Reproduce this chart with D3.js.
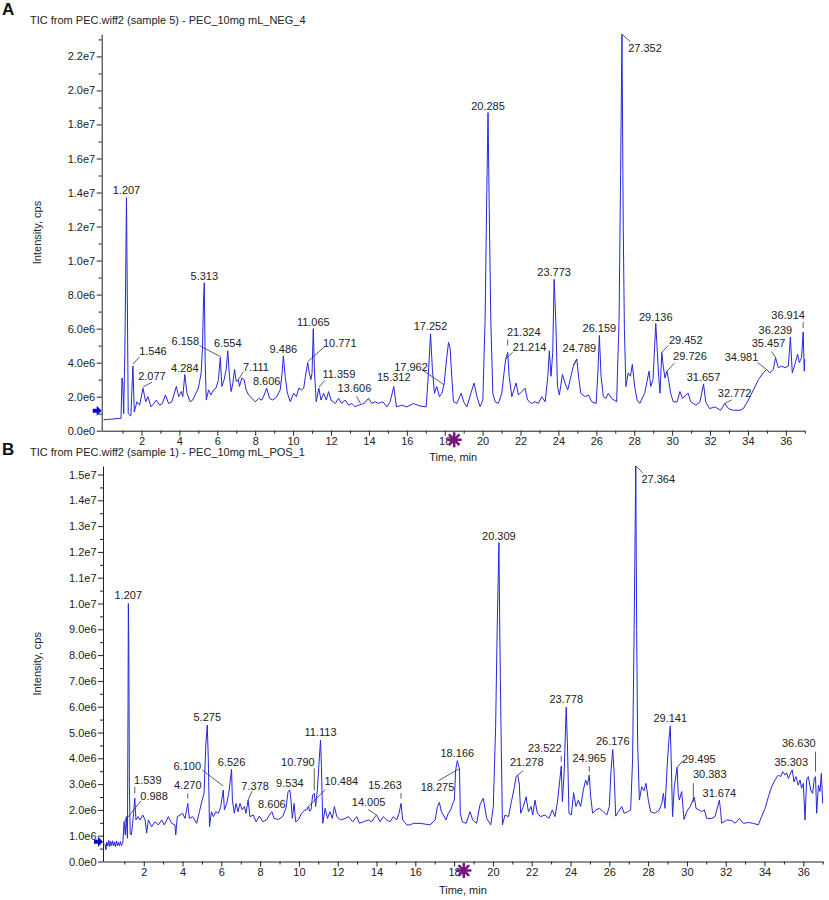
<!DOCTYPE html>
<html lang="en">
<head>
    <meta charset="UTF-8">
    <title>TIC chromatograms</title>
    <script src="https://d3js.org/d3.v7.min.js"></script>
    <style>
        body { margin: 0; background: #fff; }
        svg { display: block; }
        svg text { font-family: "Liberation Sans", Arial, sans-serif; }
        .trace { fill: none; stroke: #2626de; stroke-width: 1; stroke-linejoin: round; }
        .leader { stroke: #333; stroke-width: 0.8; }
    </style>
</head>
<body>
    <svg></svg>

    <script>
        const width = 829;
        const height = 900;
        const FONT = '"Liberation Sans", Arial, sans-serif';

        // ---- panel A : negative mode (intensity in 1e6 cps) ----
        const titleA = "TIC from PEC.wiff2 (sample 5) - PEC_10mg mL_NEG_4";
        const timeA = [0, 0.2, 0.4, 0.6, 0.8, 0.92, 0.97, 1.01, 1.06, 1.12, 1.16, 1.207, 1.25, 1.3, 1.44, 1.546, 1.62, 1.76, 1.9, 2.077,
            2.22, 2.34, 2.5, 2.65, 2.78, 2.96, 3.1, 3.26, 3.43, 3.6, 3.84, 3.96, 4.1, 4.18, 4.284, 4.4, 4.57, 4.7, 4.83, 5.0,
            5.15, 5.22, 5.27, 5.313, 5.36, 5.42, 5.54, 5.66, 5.8, 5.93, 6.06, 6.158, 6.24, 6.36, 6.47, 6.554, 6.64, 6.73, 6.82, 6.91,
            7.0, 7.111, 7.17, 7.3, 7.42, 7.52, 7.65, 7.83, 8.0, 8.18, 8.35, 8.47, 8.606, 8.76, 8.93, 9.14, 9.32, 9.42, 9.486, 9.58,
            9.7, 9.85, 10.03, 10.17, 10.3, 10.44, 10.56, 10.65, 10.771, 10.85, 10.94, 11.0, 11.065, 11.13, 11.22, 11.359, 11.47, 11.61, 11.75, 11.87,
            12.0, 12.22, 12.4, 12.57, 12.75, 12.93, 13.1, 13.27, 13.45, 13.606, 13.75, 13.98, 14.15, 14.33, 14.5, 14.74, 14.95, 15.12, 15.312, 15.45,
            15.73, 16.0, 16.35, 16.7, 17.02, 17.12, 17.252, 17.35, 17.46, 17.58, 17.72, 17.85, 17.962, 18.1, 18.2, 18.29, 18.37, 18.46, 18.64, 18.87,
            19.0, 19.17, 19.38, 19.55, 19.7, 19.87, 20.01, 20.13, 20.22, 20.285, 20.35, 20.43, 20.54, 20.66, 20.83, 21.01, 21.13, 21.214, 21.324, 21.4,
            21.54, 21.77, 21.89, 22.07, 22.24, 22.37, 22.59, 22.77, 22.94, 23.12, 23.3, 23.44, 23.52, 23.61, 23.7, 23.773, 23.86, 23.95, 24.05, 24.21,
            24.35, 24.49, 24.62, 24.72, 24.789, 24.88, 24.97, 25.06, 25.18, 25.41, 25.58, 25.76, 25.99, 26.08, 26.159, 26.25, 26.37, 26.5, 26.63, 26.81,
            27.07, 27.2, 27.28, 27.352, 27.42, 27.48, 27.56, 27.68, 27.8, 27.9, 28.02, 28.15, 28.29, 28.55, 28.78, 28.87, 28.99, 29.08, 29.136, 29.22,
            29.29, 29.36, 29.452, 29.53, 29.62, 29.726, 29.81, 29.92, 30.06, 30.27, 30.41, 30.55, 30.73, 30.85, 30.98, 31.26, 31.47, 31.657, 31.77, 31.97,
            32.26, 32.56, 32.772, 32.97, 33.23, 33.58, 33.76, 34.02, 34.29, 34.55, 34.81, 34.981, 35.16, 35.34, 35.457, 35.6, 35.78, 35.95, 36.13, 36.239,
            36.34, 36.48, 36.62, 36.71, 36.83, 36.914, 36.97, 37.0];
        const ticA = [0.65, 0.66, 0.68, 0.7, 0.72, 0.73, 3.1, 2.8, 1.0, 4.5, 8.5, 13.7, 8.0, 1.0, 0.86, 3.8, 1.1, 1.7, 1.5, 2.5,
            1.7, 2.0, 1.4, 1.6, 1.8, 1.5, 1.6, 2.1, 1.6, 1.7, 2.6, 2.0, 2.3, 2.0, 3.3, 2.2, 1.7, 1.8, 2.1, 2.5,
            3.4, 4.95, 7.6, 8.7, 4.0, 1.8, 2.4, 2.1, 2.4, 2.5, 3.0, 4.3, 2.6, 3.0, 3.6, 4.7, 3.2, 2.3, 2.8, 3.6,
            2.9, 3.0, 2.6, 3.1, 3.0, 2.4, 2.1, 1.9, 1.7, 1.9, 1.8, 2.1, 2.5, 1.9, 1.8, 2.0, 2.4, 3.4, 4.4, 3.2,
            2.2, 1.7, 2.2, 2.0, 2.5, 2.4, 2.5, 3.2, 4.0, 3.4, 3.0, 3.4, 6.0, 3.4, 1.7, 2.5, 1.8, 2.2, 1.8, 2.3,
            1.8, 1.6, 1.9, 1.6, 1.8, 1.5, 1.6, 1.4, 1.5, 1.55, 1.6, 1.9, 1.6, 1.7, 1.6, 1.7, 1.4, 1.7, 2.6, 1.4,
            1.5, 1.4, 1.6, 1.45, 1.4, 3.0, 5.7, 3.6, 2.2, 2.6, 2.0, 2.2, 2.7, 4.2, 5.2, 4.8, 3.2, 1.7, 1.6, 2.2,
            1.7, 1.4, 2.2, 2.8, 2.0, 1.4, 1.8, 6.5, 14.0, 18.7, 13.0, 6.5, 2.2, 1.7, 1.6, 2.2, 3.4, 4.2, 4.6, 3.2,
            2.0, 2.8, 2.1, 2.3, 2.5, 1.8, 1.6, 1.7, 1.6, 2.0, 1.7, 3.2, 4.7, 3.2, 4.6, 8.9, 6.5, 2.6, 2.1, 3.3,
            2.8, 2.4, 3.0, 3.5, 3.8, 4.0, 4.2, 3.2, 2.2, 2.0, 2.1, 1.7, 1.6, 3.4, 5.6, 3.2, 2.0, 1.9, 2.2, 1.9,
            1.7, 6.5, 15.0, 23.3, 12.0, 6.0, 2.6, 3.4, 3.2, 3.9, 2.6, 1.8, 1.6, 2.2, 3.5, 2.6, 3.0, 5.0, 6.3, 4.6,
            3.2, 2.2, 4.6, 3.8, 3.1, 3.5, 3.0, 2.2, 1.7, 1.7, 2.3, 1.9, 2.1, 2.2, 1.7, 1.5, 1.7, 2.75, 1.7, 1.3,
            1.4, 1.2, 1.6, 1.3, 1.2, 1.2, 1.3, 1.8, 2.4, 3.0, 3.4, 3.6, 3.4, 3.6, 4.3, 3.7, 3.8, 3.7, 3.8, 5.5,
            3.4, 3.9, 4.5, 4.0, 4.3, 5.8, 3.5, 4.2];
        const peakLabelsA = ["1.207", "1.546", "2.077", "4.284", "5.313", "6.158", "6.554", "7.111", "8.606", "9.486", "10.771",
            "11.065", "11.359", "13.606", "15.312", "17.252", "17.962", "20.285", "21.214", "21.324", "23.773", "24.789",
            "26.159", "27.352", "29.136", "29.452", "29.726", "31.657", "32.772", "34.981", "35.457", "36.239", "36.914"];
        const yTicksA = [0, 2, 4, 6, 8, 10, 12, 14, 16, 18, 20, 22];
        const yMaxA = 23.3;

        // ---- panel B : positive mode (intensity in 1e6 cps) ----
        const titleB = "TIC from PEC.wiff2 (sample 1) - PEC_10mg mL_POS_1";
        const timeB = [0, 0.05, 0.1, 0.15, 0.2, 0.25, 0.3, 0.35, 0.4, 0.45, 0.5, 0.55, 0.6, 0.65, 0.7, 0.75, 0.8, 0.85, 0.92, 0.988,
            1.05, 1.1, 1.16, 1.19, 1.207, 1.23, 1.26, 1.3, 1.36, 1.43, 1.539, 1.6, 1.71, 1.81, 1.95, 2.07, 2.15, 2.24, 2.41, 2.58,
            2.75, 2.93, 3.06, 3.27, 3.44, 3.61, 3.65, 3.73, 3.87, 4.0, 4.13, 4.27, 4.35, 4.52, 4.73, 4.87, 4.99, 5.11, 5.2, 5.275,
            5.33, 5.39, 5.49, 5.59, 5.71, 5.85, 5.97, 6.1, 6.16, 6.28, 6.38, 6.44, 6.526, 6.57, 6.67, 6.76, 6.86, 6.96, 7.08, 7.19,
            7.27, 7.378, 7.48, 7.65, 7.79, 7.96, 8.14, 8.34, 8.48, 8.606, 8.72, 8.94, 9.16, 9.33, 9.44, 9.534, 9.59, 9.66, 9.75, 9.83,
            9.97, 10.14, 10.31, 10.4, 10.484, 10.56, 10.62, 10.71, 10.79, 10.86, 10.95, 11.04, 11.113, 11.16, 11.23, 11.35, 11.47, 11.6, 11.72, 11.83,
            11.95, 12.15, 12.38, 12.55, 12.77, 12.98, 13.12, 13.32, 13.58, 13.75, 13.92, 14.005, 14.18, 14.35, 14.52, 14.69, 14.87, 15.04, 15.16, 15.263,
            15.35, 15.56, 15.73, 15.9, 16.24, 16.5, 16.76, 17.02, 17.14, 17.24, 17.34, 17.45, 17.58, 17.7, 17.82, 17.93, 18.01, 18.08, 18.166, 18.22,
            18.275, 18.32, 18.42, 18.62, 18.82, 18.96, 19.16, 19.33, 19.5, 19.68, 19.89, 20.02, 20.14, 20.22, 20.309, 20.36, 20.42, 20.49, 20.62, 20.8,
            20.97, 21.11, 21.2, 21.278, 21.36, 21.43, 21.57, 21.71, 21.83, 21.97, 22.05, 22.17, 22.29, 22.46, 22.68, 22.89, 23.06, 23.2, 23.34, 23.522,
            23.58, 23.67, 23.778, 23.84, 23.92, 24.04, 24.16, 24.28, 24.4, 24.52, 24.66, 24.78, 24.87, 24.965, 25.04, 25.14, 25.31, 25.49, 25.69, 25.87,
            26.0, 26.09, 26.176, 26.24, 26.33, 26.47, 26.64, 26.77, 26.95, 27.1, 27.2, 27.28, 27.364, 27.41, 27.46, 27.55, 27.67, 27.79, 27.89, 28.01,
            28.13, 28.35, 28.58, 28.7, 28.79, 28.87, 28.99, 29.06, 29.141, 29.19, 29.26, 29.35, 29.495, 29.55, 29.61, 29.73, 29.85, 29.99, 30.16, 30.383,
            30.47, 30.62, 30.76, 30.9, 31.02, 31.28, 31.45, 31.674, 31.74, 31.79, 32.05, 32.31, 32.48, 32.71, 32.91, 33.17, 33.42, 33.68, 33.85, 34.03,
            34.2, 34.37, 34.54, 34.71, 34.83, 34.94, 35.06, 35.14, 35.23, 35.303, 35.43, 35.52, 35.62, 35.74, 35.83, 35.91, 36.0, 36.09, 36.17, 36.26,
            36.38, 36.48, 36.57, 36.63, 36.69, 36.78, 36.86, 36.93, 37.0];
        const ticB = [0.7, 0.45, 0.75, 0.6, 0.82, 0.58, 0.78, 0.62, 0.8, 0.6, 0.76, 0.58, 0.8, 0.62, 0.74, 0.6, 0.78, 0.62, 0.7, 1.54,
            1.03, 1.74, 0.9, 6.0, 10.0, 8.4, 3.0, 1.1, 1.03, 1.48, 2.45, 1.61, 1.74, 1.61, 1.8, 1.61, 1.1, 1.61, 1.35, 1.54,
            1.42, 1.61, 1.42, 1.74, 1.48, 1.42, 1.03, 1.74, 1.8, 1.87, 1.67, 2.25, 1.67, 1.74, 1.48, 1.93, 2.32, 2.64, 4.52, 5.29,
            3.94, 1.35, 1.93, 1.74, 1.93, 1.87, 2.13, 2.77, 2.0, 2.25, 2.64, 3.0, 3.57, 2.38, 1.87, 2.25, 1.93, 2.25, 2.0, 2.13,
            1.87, 2.38, 1.74, 1.8, 1.54, 1.76, 1.54, 1.63, 1.8, 1.93, 1.67, 1.63, 1.74, 2.06, 2.71, 2.77, 2.38, 1.67, 2.25, 1.54,
            1.61, 1.87, 2.0, 2.0, 2.13, 1.95, 2.0, 2.58, 2.64, 2.13, 2.77, 3.87, 4.71, 3.68, 1.48, 2.06, 1.67, 1.93, 1.67, 2.13,
            1.74, 1.61, 1.67, 1.74, 1.54, 1.74, 1.48, 1.54, 1.61, 1.54, 1.74, 1.8, 1.54, 1.74, 1.61, 1.54, 1.74, 1.61, 1.87, 2.25,
            1.61, 1.42, 1.42, 1.48, 1.48, 1.45, 1.42, 1.61, 2.13, 2.29, 1.93, 1.8, 1.61, 1.87, 2.0, 2.25, 2.38, 3.55, 3.91, 3.75,
            3.6, 1.87, 1.54, 1.48, 1.93, 1.61, 1.48, 2.19, 2.45, 1.67, 1.42, 2.13, 5.23, 9.0, 12.36, 8.5, 5.0, 1.42, 1.8, 1.74,
            2.38, 2.9, 3.3, 3.35, 3.0, 1.87, 2.13, 2.51, 1.93, 2.13, 1.8, 2.38, 1.87, 1.74, 1.8, 1.67, 2.0, 1.74, 2.38, 3.7,
            2.32, 3.42, 5.98, 4.58, 1.87, 1.8, 2.67, 2.13, 2.38, 2.13, 2.77, 3.16, 2.96, 3.35, 2.51, 1.87, 2.0, 2.06, 1.93, 1.8,
            2.13, 3.55, 4.34, 3.55, 1.76, 1.93, 2.13, 1.87, 1.93, 2.0, 3.94, 9.0, 15.33, 9.0, 4.58, 2.38, 2.9, 2.74, 3.03, 2.38,
            1.93, 1.87, 2.0, 2.25, 2.64, 2.06, 3.81, 4.58, 5.26, 3.94, 1.74, 2.9, 3.65, 2.64, 2.38, 2.71, 1.63, 1.93, 2.13, 2.49,
            2.06, 2.0, 1.93, 2.0, 1.67, 1.67, 1.74, 2.38, 1.93, 1.48, 1.61, 1.59, 1.48, 1.67, 1.48, 1.51, 1.48, 1.42, 1.74, 2.06,
            2.51, 2.9, 3.16, 3.35, 3.29, 3.48, 3.35, 3.44, 3.22, 3.35, 3.55, 3.09, 3.29, 2.96, 3.16, 2.84, 3.03, 1.61, 3.16, 3.29,
            2.77, 2.64, 3.22, 3.29, 1.87, 2.96, 2.71, 3.42, 2.25];
        const peakLabelsB = ["0.988", "1.207", "1.539", "4.270", "5.275", "6.100", "6.526", "7.378", "8.606", "9.534", "10.484",
            "10.790", "11.113", "14.005", "15.263", "18.166", "18.275", "20.309", "21.278", "23.522", "23.778", "24.965",
            "26.176", "27.364", "29.141", "29.495", "30.383", "31.674", "35.303", "36.630"];
        const yTicksB = [0, 1, 2, 3, 4, 5, 6, 7, 8, 9, 10, 11, 12, 13, 14, 15];
        const yMaxB = 15.33;

        const xTicks = [2, 4, 6, 8, 10, 12, 14, 16, 18, 20, 22, 24, 26, 28, 30, 32, 34, 36];
        const xMinorTicks = [1, 3, 5, 7, 9, 11, 13, 15, 17, 19, 21, 23, 25, 27, 29, 31, 33, 35, 37];
        const xDomain = [-0.1, 37.0];
        const markerTime = 18.5;           // purple marker under the time axis
        const arrowLevelA = 1.17, arrowLevelB = 0.77;

        // label placement relative to the labelled point: [dx, dy, leader]
        const labelPosA = [[0, -4], [20, -11, [0, -2, 6.5, -9]], [9, -8, [0, -1, 9, -6]], [0, -3], [0, -3],
            [-35, -12.5, [0, -1, -21, -12]], [0, -4], [17.6, -8.7, [0, 0, 5, -8]], [0, -3], [0, -3],
            [32, -16, [0, -1, 17, -16]], [0, -3], [20, -10, [0, -1, 6, -8]], [-7, -12, [-1, -1, -5, -8]], [0, -5],
            [0, -4], [-33, -14, [0, 0, -22, -15]], [0, -3], [24, -8, [0, 0, 7, -7]], [16, -16, [0, -7, 0, -13]],
            [0, -3], [6, -14, [0, -1, 3.5, -7]], [0, -3], [23, 18, [0, 0, 8, 7]], [0, -3],
            [24, -8, [0, 0, 6.5, -7]], [23, -11.5, [0, 0, 7.5, -8]], [0, -3], [10, -6, [0, 0, 7, -3.5]],
            [-25, -8, [0, 0, -9, -7]], [-7, -10.6, [0, 0, -4, -6]], [-15, -3], [-15, -13, [0, -4, 0, -10]]];
        const labelPosB = [[30, -22, [0, 0, 17, -21]], [0, -4.5], [13, -14, [0, -5, 0, -11.5]], [0, -14, [0, -5, 0, -10]],
            [0, -3.7], [-36, -20, [0, -4, -21, -20]], [0, -3.7], [7, -10, [0, 0, 4, -9]], [0, -4], [0, -3],
            [33, -21.5, [0, 0, 17, -17]], [-16.4, -27.7, [0, -3, 0, -25]], [0, -4], [-8, -9.3, [0, 0, -8.5, -5.5]],
            [-16, -14, [0, -5, 0, -10.5]], [0, -4], [-22, 22, [0, 0, -21, 12]], [0, -3], [9, -9.4, [0, 0, 5.4, -4.3]],
            [-16.5, -14.3, [0, -4.3, 0, -10]], [0, -4], [0, -13.4, [0, -3.4, 0, -9]], [0, -4.5], [22.5, 17.3, [0, 0, 7, 6.7]],
            [0, -4], [21.7, -4, [0, 0, 5.7, -6.6]], [15.4, -19, [-1, -14, -1, 5]], [0, -3.4], [1.5, -9.3],
            [-16.7, -29.6, [0, -5, 0, -25]]];

        const panels = [
            { letter: "A", title: titleA, time: timeA, tic: ticA, labels: peakLabelsA, pos: labelPosA,
              yTicks: yTicksA, yMinor: d3.range(1, 24, 2), yMax: yMaxA, arrow: arrowLevelA,
              xRange: [101.7, 804.8], yRange: [430.7, 34.3], headY: 24, letterY: 15, timeY: 30 },
            { letter: "B", title: titleB, time: timeB, tic: ticB, labels: peakLabelsB, pos: labelPosB,
              yTicks: yTicksB, yMinor: d3.range(0.5, 15.4, 1), yMax: yMaxB, arrow: arrowLevelB,
              xRange: [103.0, 822.7], yRange: [861.5, 466], headY: 456, letterY: 455, timeY: 32 }
        ];

        const svg = d3.select('svg')
            .attr('width', width)
            .attr('height', height)
            .attr('viewBox', [0, 0, width, height]);

        const fmtE = v => d3.format(".1e")(v * 1e6).replace("+", "");

        panels.forEach(p => {
            const x = d3.scaleLinear().domain(xDomain).range(p.xRange);
            const y = d3.scaleLinear().domain([0, p.yMax]).range(p.yRange);
            const g = svg.append("g");

            g.append("text").attr("x", 2).attr("y", p.letterY)
                .attr("font-size", 17).attr("font-weight", "bold").attr("fill", "#111").text(p.letter);
            g.append("text").attr("x", 30).attr("y", p.headY)
                .attr("font-size", 11).attr("fill", "#222").text(p.title);

            // y axis (minor + major)
            g.append("g").attr("transform", `translate(${p.xRange[0]},0)`)
                .call(d3.axisLeft(y).tickValues(p.yMinor).tickSize(3).tickSizeOuter(0).tickFormat(""))
                .call(a => a.select(".domain").remove())
                .attr("color", "#222");
            g.append("g").attr("transform", `translate(${p.xRange[0]},0)`)
                .call(d3.axisLeft(y).tickValues(p.yTicks).tickSize(5).tickPadding(1.5).tickSizeOuter(0).tickFormat(fmtE))
                .attr("font-size", 11).attr("font-family", FONT).attr("color", "#222");

            // x axis (minor + major)
            g.append("g").attr("transform", `translate(0,${p.yRange[0]})`)
                .call(d3.axisBottom(x).tickValues(xMinorTicks).tickSize(3).tickSizeOuter(0).tickFormat(""))
                .call(a => a.select(".domain").remove())
                .attr("color", "#222");
            g.append("g").attr("transform", `translate(0,${p.yRange[0]})`)
                .call(d3.axisBottom(x).tickValues(xTicks).tickSize(5).tickPadding(2).tickSizeOuter(0).tickFormat(d3.format("d")))
                .attr("font-size", 11).attr("font-family", FONT).attr("color", "#222");

            const yMid = (p.yRange[0] + p.yRange[1]) / 2;
            g.append("text").attr("transform", `translate(41,${yMid}) rotate(-90)`)
                .attr("text-anchor", "middle").attr("font-size", 11).attr("fill", "#222").text("Intensity, cps");
            g.append("text").attr("x", (p.xRange[0] + p.xRange[1]) / 2).attr("y", p.yRange[0] + p.timeY)
                .attr("text-anchor", "middle").attr("font-size", 11).attr("fill", "#222").text("Time, min");

            // chromatogram trace
            const line = d3.line().x(i => x(p.time[i])).y(i => y(p.tic[i]));
            g.append("path").attr("class", "trace").attr("d", line(d3.range(p.time.length)));

            // peak labels
            p.labels.forEach((lab, k) => {
                const t = +lab;
                const i = d3.minIndex(p.time, d => Math.abs(d - t));
                const ax = x(p.time[i]), ay = y(p.tic[i]);
                const [dx, dy, ld] = p.pos[k];
                if (ld) {
                    g.append("line").attr("class", "leader")
                        .attr("x1", ax + ld[0]).attr("y1", ay + ld[1])
                        .attr("x2", ax + ld[2]).attr("y2", ay + ld[3]);
                }
                g.append("text").attr("x", ax + dx).attr("y", ay + dy)
                    .attr("text-anchor", "middle").attr("font-size", 11).attr("fill", "#222").text(lab);
            });

            // blue arrow on the intensity axis
            const ay0 = y(p.arrow), ax0 = p.xRange[0];
            g.append("path")
                .attr("d", `M${ax0 - 9},${ay0 - 2} h4 v-3 l5,5 l-5,5 v-3 h-4 z`)
                .attr("fill", "#0a0ac8");

            // purple marker under the time axis
            const mx = x(markerTime), my = p.yRange[0] + 9;
            const mk = g.append("g").attr("transform", `translate(${mx},${my})`)
                .attr("stroke", "#74157e").attr("stroke-width", 2.6).attr("stroke-linecap", "round");
            [0, 45, 90, 135].forEach(a => {
                mk.append("line").attr("x1", -6.5).attr("x2", 6.5)
                    .attr("transform", `rotate(${a})`);
            });
            mk.append("circle").attr("r", 2.5).attr("fill", "#74157e").attr("stroke", "none");
        });
    </script>
</body>
</html>
